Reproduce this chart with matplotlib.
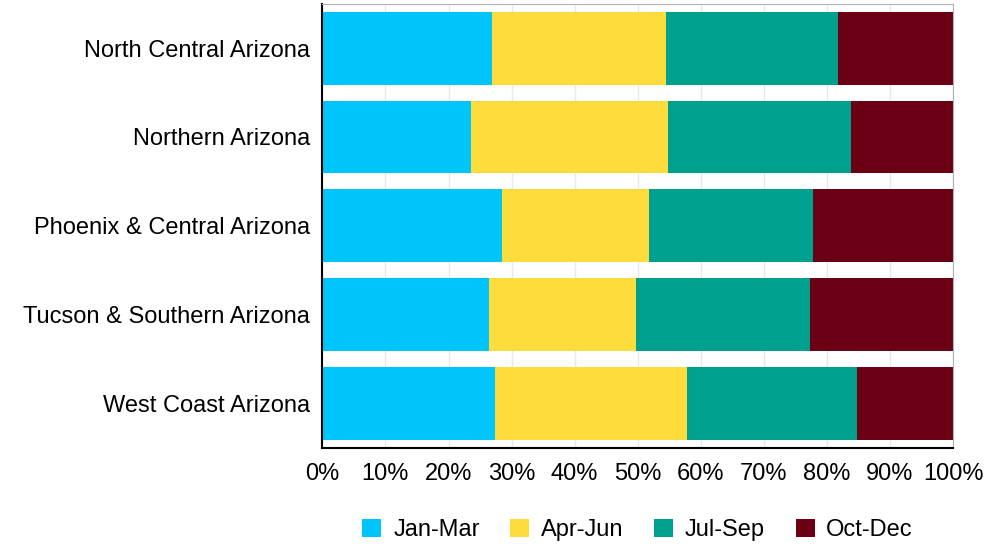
import matplotlib.pyplot as plt
import numpy as np
from matplotlib.ticker import PercentFormatter

plt.rcParams['font.family'] = ['Liberation Sans', 'DejaVu Sans']

regions = ['North Central Arizona', 'Northern Arizona', 'Phoenix & Central Arizona',
           'Tucson & Southern Arizona', 'West Coast Arizona']
quarters = ['Jan-Mar', 'Apr-Jun', 'Jul-Sep', 'Oct-Dec']
colors = ['#00c5fb', '#fddc3c', '#00a08e', '#6b0014']

# share of each quarter, per region (percent)
jan_mar = [26.9, 23.5, 28.5, 26.5, 27.3]
apr_jun = [27.6, 31.3, 23.3, 23.3, 30.5]
jul_sep = [27.3, 29.0, 26.0, 27.5, 27.0]
oct_dec = [18.2, 16.2, 22.2, 22.7, 15.2]

fig, ax = plt.subplots(figsize=(9.98, 5.44), dpi=100)
fig.subplots_adjust(left=0.323, right=0.955, top=0.993, bottom=0.177)

y = np.arange(len(regions))
left = np.zeros(len(regions))
for name, vals, c in zip(quarters, [jan_mar, apr_jun, jul_sep, oct_dec], colors):
    ax.barh(y, vals, left=left, height=0.82, color=c, label=name, zorder=2)
    left += np.array(vals)

ax.set_yticks(y)
ax.set_yticklabels(regions, fontsize=17)
ax.set_ylim(len(regions) - 0.5, -0.5)
ax.set_xlim(0, 100)
ax.set_xticks(np.arange(0, 101, 10))
ax.xaxis.set_major_formatter(PercentFormatter(decimals=0))
ax.tick_params(axis='x', labelsize=17, length=0, pad=11)
ax.tick_params(axis='y', length=0, pad=9)
ax.grid(axis='x', color='#e8e8e8', lw=1, zorder=0)

for s in ['top', 'right']:
    ax.spines[s].set_color('#b0b0b0')
for s in ['left', 'bottom']:
    ax.spines[s].set_color('black')
    ax.spines[s].set_linewidth(1.5)

ax.legend(loc='center', bbox_to_anchor=(0.5, -0.185), ncol=4, frameon=False,
          fontsize=17, handlelength=0.8, handleheight=0.8, columnspacing=1.3,
          handletextpad=0.5)

plt.savefig('out.png')
